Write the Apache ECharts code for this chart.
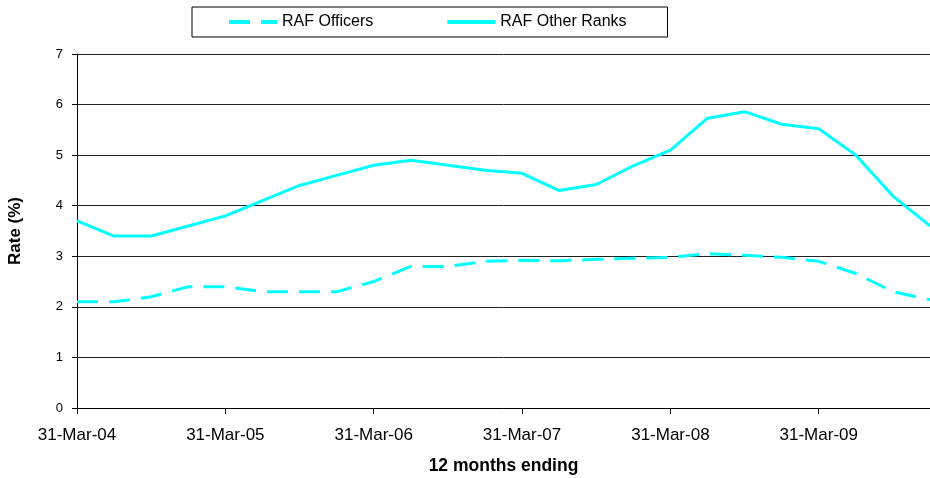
<!DOCTYPE html>
<html>
<head>
<meta charset="utf-8">
<title>RAF rates</title>
<script src="https://cdn.jsdelivr.net/npm/echarts@6/dist/echarts.min.js"></script>
<style>
  html, body { margin: 0; padding: 0; background: #fff; }
  #main { width: 930px; height: 478px; }
</style>
</head>
<body>
<div id="main"></div>
<script>
// quarters, 12 months ending
var categories = [
  '31-Mar-04', '30-Jun-04', '30-Sep-04', '31-Dec-04',
  '31-Mar-05', '30-Jun-05', '30-Sep-05', '31-Dec-05',
  '31-Mar-06', '30-Jun-06', '30-Sep-06', '31-Dec-06',
  '31-Mar-07', '30-Jun-07', '30-Sep-07', '31-Dec-07',
  '31-Mar-08', '30-Jun-08', '30-Sep-08', '31-Dec-08',
  '31-Mar-09', '30-Jun-09', '30-Sep-09', '31-Dec-09'
];
var officers = [2.1, 2.1, 2.2, 2.4, 2.4, 2.3, 2.3, 2.3, 2.5, 2.8, 2.8, 2.9,
  2.92, 2.91, 2.94, 2.96, 2.98, 3.05, 3.02, 2.98, 2.9, 2.66, 2.3, 2.14];
var otherRanks = [3.7, 3.4, 3.4, 3.6, 3.8, 4.1, 4.4, 4.6, 4.8, 4.9, 4.8, 4.7,
  4.64, 4.3, 4.42, 4.79, 5.1, 5.73, 5.86, 5.61, 5.52, 5.0, 4.19, 3.6];
var seriesNames = ['RAF Officers', 'RAF Other Ranks'];

var font = "'Liberation Sans', Arial, sans-serif";
var cyan = '#00FFFF';
// legend icons: dashed and solid line drawn as filled paths
var dashIcon = 'path://M0,0h21v4h-21z M32,0h16v4h-16z';
var solidIcon = 'path://M0,0h48v4h-48z';

function getOption() {
  return {
    animation: false,
    legend: {
      left: 192,
      top: 7,
      padding: [7, 41, 7, 37],
      itemWidth: 48,
      itemHeight: 4,
      itemGap: 74,
      borderColor: '#000',
      borderWidth: 1,
      data: [
        { name: seriesNames[0], icon: dashIcon },
        { name: seriesNames[1], icon: solidIcon }
      ],
      textStyle: { fontFamily: font, fontSize: 16, color: '#000', lineHeight: 16 }
    },
    grid: {
      left: 77,
      right: 0,
      top: 54,
      bottom: 70,
      outerBoundsMode: 'none'
    },
    xAxis: {
      type: 'category',
      boundaryGap: false,
      data: categories,
      name: '12 months ending',
      nameLocation: 'middle',
      nameGap: 49,
      nameTextStyle: { fontFamily: font, fontSize: 17.5, fontWeight: 'bold', color: '#000' },
      axisLine: { lineStyle: { color: '#000', width: 1 } },
      axisTick: { interval: 3, length: 6, lineStyle: { color: '#000' } },
      axisLabel: { interval: 3, margin: 19, fontFamily: font, fontSize: 17, color: '#000' },
      splitLine: { show: false }
    },
    yAxis: {
      type: 'value',
      min: 0,
      max: 7,
      interval: 1,
      name: 'Rate (%)',
      nameLocation: 'middle',
      nameGap: 53,
      nameRotate: 90,
      nameTextStyle: { fontFamily: font, fontSize: 17, fontWeight: 'bold', color: '#000' },
      axisLine: { show: true, lineStyle: { color: '#000', width: 1 } },
      axisTick: { show: true, length: 5, lineStyle: { color: '#000' } },
      axisLabel: { margin: 14, fontFamily: font, fontSize: 13, color: '#000' },
      splitLine: { lineStyle: { color: '#222', width: 1 } }
    },
    series: [{
      name: seriesNames[0],
      type: 'line',
      data: officers,
      symbol: 'none',
      itemStyle: { color: cyan },
      lineStyle: { color: cyan, width: 3, type: [21, 11] }
    }, {
      name: seriesNames[1],
      type: 'line',
      data: otherRanks,
      symbol: 'none',
      itemStyle: { color: cyan },
      lineStyle: { color: cyan, width: 3 }
    }]
  };
}

var chart = echarts.init(document.getElementById('main'), null, { renderer: 'canvas' });
chart.setOption(getOption());
</script>
</body>
</html>
